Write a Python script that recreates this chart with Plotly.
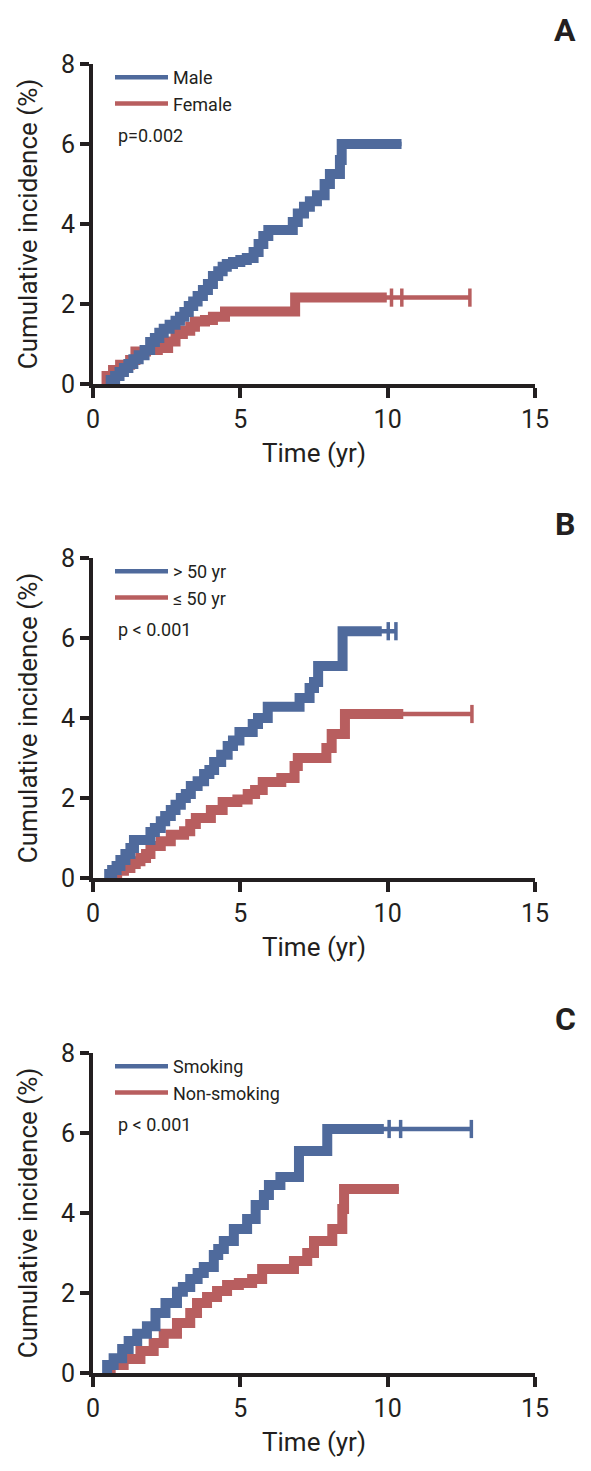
import plotly.graph_objects as go

W, H = 591, 1471
OFF = 8  # page body margin: figure is drawn 8px in from the window corner
FW, FH = W - OFF, H - OFF

# ---------------- data ----------------
# Panel A: sex
a_male_t = [0.46, 0.6, 0.75, 0.9, 1.05, 1.2, 1.37, 1.55, 1.75, 1.94, 2.1, 2.25, 2.4, 2.6, 2.8, 2.95,
            3.1, 3.25, 3.4, 3.55, 3.73, 3.9, 4.07, 4.25, 4.4, 4.54, 4.75, 5.0, 5.22, 5.45, 5.62, 5.78,
            5.95, 6.78, 6.95, 7.16, 7.36, 7.6, 7.86, 8.04, 8.38, 8.44, 10.47]
a_male_v = [0.0, 0.1, 0.2, 0.3, 0.4, 0.5, 0.62, 0.72, 0.85, 1.05, 1.15, 1.28, 1.38, 1.48, 1.58, 1.68,
            1.8, 1.95, 2.06, 2.2, 2.35, 2.5, 2.7, 2.82, 2.93, 3.0, 3.05, 3.1, 3.15, 3.3, 3.5, 3.7,
            3.85, 4.05, 4.26, 4.43, 4.57, 4.72, 5.0, 5.25, 5.6, 6.0, 6.0]
a_male_tail_t = []
a_male_tail_v = []

a_female_t = [0.41, 0.46, 0.68, 0.92, 1.26, 1.44, 1.8, 2.2, 2.55, 2.8, 3.05, 3.3, 3.46, 3.8, 4.07,
              4.48, 6.86, 9.97]
a_female_v = [0.0, 0.2, 0.35, 0.48, 0.6, 0.81, 0.85, 0.9, 1.06, 1.25, 1.33, 1.43, 1.56, 1.6, 1.68,
              1.81, 2.16, 2.16]
a_female_tail_t = [10.13, 10.48, 12.79]
a_female_tail_v = [2.16, 2.16, 2.16]

# Panel B: age
b_old_t = [0.42, 0.55, 0.65, 0.8, 0.93, 1.1, 1.27, 1.39, 1.95, 2.1, 2.3, 2.45, 2.64, 2.8, 2.98,
           3.15, 3.32, 3.55, 3.77, 3.95, 4.11, 4.35, 4.57, 4.75, 4.97, 5.42, 5.6, 5.93, 7.01,
           7.35, 7.5, 7.64, 8.47, 9.8]
b_old_v = [0.0, 0.1, 0.2, 0.3, 0.45, 0.6, 0.75, 0.95, 1.15, 1.25, 1.42, 1.55, 1.7, 1.83, 2.0,
           2.1, 2.3, 2.42, 2.6, 2.7, 2.9, 3.08, 3.3, 3.44, 3.65, 3.85, 4.0, 4.28, 4.5,
           4.75, 4.9, 5.3, 6.17, 6.17]
b_old_tail_t = [10.02, 10.28]
b_old_tail_v = [6.17, 6.17]

b_young_t = [0.48, 0.6, 0.82, 1.05, 1.27, 1.45, 1.61, 1.8, 1.95, 2.3, 2.64, 3.09, 3.3, 3.49, 4.0,
             4.4, 4.9, 5.25, 5.5, 5.76, 6.39, 6.84, 6.95, 7.92, 8.1, 8.55, 10.53]
b_young_v = [0.0, 0.1, 0.18, 0.25, 0.35, 0.42, 0.5, 0.6, 0.8, 0.92, 1.08, 1.17, 1.35, 1.5, 1.7,
             1.9, 1.96, 2.1, 2.2, 2.4, 2.5, 2.8, 3.0, 3.25, 3.6, 4.1, 4.1]
b_young_tail_t = [12.86]
b_young_tail_v = [4.1]

# Panel C: smoking
c_smk_t = [0.42, 0.48, 0.7, 0.99, 1.21, 1.5, 1.83, 2.12, 2.46, 2.85, 3.05, 3.3, 3.55, 3.76, 4.1,
           4.25, 4.44, 4.78, 5.23, 5.52, 5.8, 5.97, 6.36, 6.99, 7.95, 9.87]
c_smk_v = [0.0, 0.2, 0.37, 0.6, 0.8, 0.98, 1.17, 1.5, 1.75, 2.03, 2.15, 2.35, 2.5, 2.65, 2.95,
           3.1, 3.3, 3.6, 3.85, 4.2, 4.45, 4.7, 4.9, 5.55, 6.1, 6.1]
c_smk_tail_t = [10.05, 10.44, 12.84]
c_smk_tail_v = [6.1, 6.1, 6.1]

c_non_t = [0.53, 0.6, 1.04, 1.61, 2.06, 2.4, 2.85, 3.3, 3.53, 3.87, 4.21, 4.55, 4.95, 5.4, 5.74,
           6.82, 7.27, 7.5, 8.12, 8.46, 8.52, 10.38]
c_non_v = [0.0, 0.2, 0.35, 0.55, 0.75, 0.98, 1.25, 1.5, 1.75, 1.9, 2.05, 2.2, 2.25, 2.35, 2.6,
           2.8, 3.0, 3.3, 3.6, 4.1, 4.6, 4.6]
c_non_tail_t = []
c_non_tail_v = []

panel_letters = ["A", "B", "C"]
p_texts = ["p=0.002", "p < 0.001", "p < 0.001"]
series_names = [["Male", "Female"], ["> 50 yr", "\u2264 50 yr"], ["Smoking", "Non-smoking"]]
x_ticks = [0, 5, 10, 15]
y_ticks = [0, 2, 4, 6, 8]

# ---------------- styling ----------------
BLUE = "#4f6a9c"
RED = "#b85e5f"
INK = "#231f20"
FONT = "Roboto, Liberation Sans, sans-serif"

# pixel geometry of each panel in the window (left, right, top, bottom)
X_L, X_R = 93, 535
panel_px = [(64, 384), (558, 878), (1053, 1373)]


def px_x(p):
    return (p - OFF) / FW


def px_y(p):
    return 1 - (p - OFF) / FH


panels = [
    [(a_male_t, a_male_v, a_male_tail_t, a_male_tail_v, BLUE),
     (a_female_t, a_female_v, a_female_tail_t, a_female_tail_v, RED)],
    [(b_old_t, b_old_v, b_old_tail_t, b_old_tail_v, BLUE),
     (b_young_t, b_young_v, b_young_tail_t, b_young_tail_v, RED)],
    [(c_smk_t, c_smk_v, c_smk_tail_t, c_smk_tail_v, BLUE),
     (c_non_t, c_non_v, c_non_tail_t, c_non_tail_v, RED)],
]

fig = go.Figure()
legend_names = ["legend", "legend2", "legend3"]

for i, series in enumerate(panels):
    xa = "x" if i == 0 else f"x{i+1}"
    ya = "y" if i == 0 else f"y{i+1}"
    for j in [1, 0]:
        t, v, tt, tv, col = series[j]
        name = series_names[i][j]
        # full curve (thin) — carries the legend entry
        fig.add_trace(go.Scatter(
            x=t + tt, y=v + tv, mode="lines", line=dict(color=col, width=4.5, shape="hv"),
            name=name, xaxis=xa, yaxis=ya, legend=legend_names[i],
            legendrank=j + 1, showlegend=True, hoverinfo="skip"))
        # dense censoring band
        fig.add_trace(go.Scatter(
            x=t, y=v, mode="lines", line=dict(color=col, width=10, shape="hv"),
            xaxis=xa, yaxis=ya, showlegend=False, hoverinfo="skip"))
        # sparse censor marks
        if tt:
            fig.add_trace(go.Scatter(
                x=tt, y=tv, mode="markers",
                marker=dict(symbol="line-ns", size=13, line=dict(color=col, width=3.5)),
                xaxis=xa, yaxis=ya, showlegend=False, hoverinfo="skip"))

layout = dict(
    width=FW, height=FH,
    margin=dict(l=0, r=0, t=0, b=0, autoexpand=False),
    paper_bgcolor="white", plot_bgcolor="white",
    font=dict(family=FONT, color=INK),
    showlegend=True,
)

annotations = []
for i, (top, bot) in enumerate(panel_px):
    xk = "xaxis" if i == 0 else f"xaxis{i+1}"
    yk = "yaxis" if i == 0 else f"yaxis{i+1}"
    ya = "y" if i == 0 else f"y{i+1}"
    xa = "x" if i == 0 else f"x{i+1}"
    layout[xk] = dict(
        domain=[px_x(X_L), px_x(X_R)], anchor=ya, range=[0, 15],
        tickvals=x_ticks, ticks="outside", ticklen=10, tickwidth=4, tickcolor=INK,
        showline=True, linewidth=4, linecolor=INK, showgrid=False, zeroline=False,
        tickfont=dict(size=25, family=FONT, color=INK), automargin=False,
        title=dict(text="Time (yr)", font=dict(size=26, family=FONT, color=INK), standoff=12),
        fixedrange=True,
    )
    layout[yk] = dict(
        domain=[px_y(bot), px_y(top)], anchor=xa, range=[0, 8],
        tickvals=y_ticks, ticks="outside", ticklen=9, tickwidth=4, tickcolor=INK,
        showline=True, linewidth=4, linecolor=INK, showgrid=False, zeroline=False,
        tickfont=dict(size=25, family=FONT, color=INK), automargin=False,
        title=dict(text="Cumulative incidence (%)", font=dict(size=26, family=FONT, color=INK),
                   standoff=17),
        fixedrange=True,
    )
    ln = legend_names[i]
    layout[ln] = dict(
        x=px_x(110), y=px_y(top - 5), xanchor="left", yanchor="top",
        bgcolor="rgba(0,0,0,0)", borderwidth=0,
        font=dict(size=18, family=FONT, color=INK),
        itemwidth=53, tracegroupgap=0, traceorder="normal",
    )
    annotations.append(dict(
        text=p_texts[i], x=px_x(116), y=px_y(top + 71), xref="paper", yref="paper",
        xanchor="left", yanchor="middle", showarrow=False,
        font=dict(size=18, family=FONT, color=INK)))
    annotations.append(dict(
        text="<b>" + panel_letters[i] + "</b>", x=px_x(565), y=px_y(top - 34),
        xref="paper", yref="paper", xanchor="center", yanchor="middle", showarrow=False,
        font=dict(size=32, family=FONT, color=INK)))

layout["annotations"] = annotations
fig.update_layout(**layout)

fig.write_html("out.html")
